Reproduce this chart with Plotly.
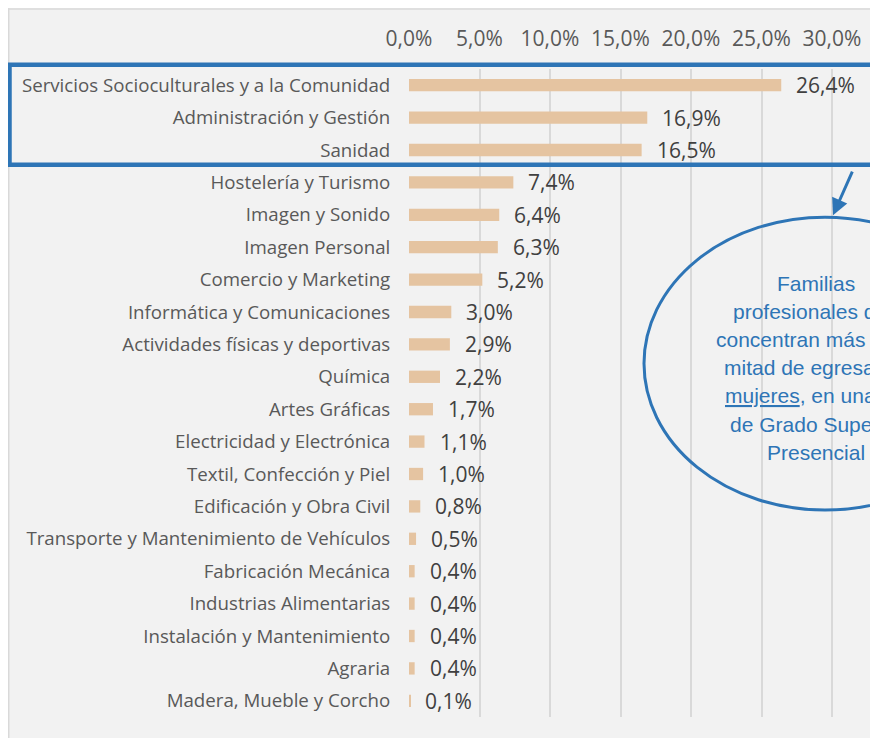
import plotly.graph_objects as go

categories = [
    "Servicios Socioculturales y a la Comunidad",
    "Administración y Gestión",
    "Sanidad",
    "Hostelería y Turismo",
    "Imagen y Sonido",
    "Imagen Personal",
    "Comercio y Marketing",
    "Informática y Comunicaciones",
    "Actividades físicas y deportivas",
    "Química",
    "Artes Gráficas",
    "Electricidad y Electrónica",
    "Textil, Confección y Piel",
    "Edificación y Obra Civil",
    "Transporte y Mantenimiento de Vehículos",
    "Fabricación Mecánica",
    "Industrias Alimentarias",
    "Instalación y Mantenimiento",
    "Agraria",
    "Madera, Mueble y Corcho",
]
values = [26.4, 16.9, 16.5, 7.4, 6.4, 6.3, 5.2, 3.0, 2.9, 2.2, 1.7, 1.1, 1.0, 0.8, 0.5, 0.4, 0.4, 0.4, 0.4, 0.1]
tick_values = [0, 5, 10, 15, 20, 25, 30]
tick_labels = ["0,0%", "5,0%", "10,0%", "15,0%", "20,0%", "25,0%", "30,0%"]

note_lines = ["Familias", "profesionales que", "concentran más de la", "mitad de egresadas",
              "<u>mujeres</u>, en una FP", "de Grado Superior", "Presencial"]

# page offset of the figure (body margin)
OFF = 8
W, H = 870, 730
L, R, T, B = 401, 0, 60.8, 21
PW = W - L - R
PH = H - T - B

def px(x):  # page pixel -> paper
    return (x - OFF - L) / PW

def py(y):
    return (OFF + H - B - y) / PH

BLUE = "#2e75b6"
TXT = "#404040"
GRAY = "#595959"
FONT = "Open Sans"

labels = [f"{v:.1f}".replace(".", ",") + "%" for v in values]

fig = go.Figure()
fig.add_trace(go.Bar(
    x=values, y=categories, orientation="h",
    marker=dict(color="#e5c4a1", line=dict(width=0)),
    width=0.38, hoverinfo="skip",
))

annotations = []
for c, v, t in zip(categories, values, labels):
    annotations.append(dict(x=v, y=c, xref="x", yref="y", text=t, showarrow=False,
                            xanchor="left", yanchor="middle", xshift=13,
                            font=dict(family=FONT, size=21, color=TXT)))

for i, line in enumerate(note_lines):
    annotations.append(dict(x=px(816), y=py(283 + i * 28.2), xref="paper", yref="paper", text=line,
                            showarrow=False, xanchor="center", yanchor="middle", align="center",
                            font=dict(family="Liberation Sans, Arial", size=21, color=BLUE)))
annotations.append(dict(x=px(833), y=py(215), xref="paper", yref="paper", text="",
                        showarrow=True, ax=20, ay=-45, arrowhead=2, arrowsize=1.1,
                        arrowwidth=3, arrowcolor=BLUE))

shapes = [
    dict(type="line", xref="paper", yref="paper", x0=px(OFF + 0.75), x1=px(OFF + 0.75), y0=py(OFF), y1=py(OFF + H),
         line=dict(color="#d9d9d9", width=1.5), layer="below"),
    dict(type="line", xref="paper", yref="paper", x0=px(OFF), x1=px(OFF + W), y0=py(OFF + 0.75), y1=py(OFF + 0.75),
         line=dict(color="#d9d9d9", width=1.5), layer="below"),
    dict(type="rect", xref="paper", yref="paper", x0=px(9.5), x1=px(920), y0=py(64.5), y1=py(164.5),
         line=dict(color=BLUE, width=4.5), layer="above"),
    dict(type="circle", xref="paper", yref="paper", x0=px(644), x1=px(1006), y0=py(217), y1=py(510),
         line=dict(color=BLUE, width=3), layer="above"),
]

fig.update_layout(
    width=W, height=H,
    margin=dict(l=L, r=R, t=T, b=B, pad=0),
    paper_bgcolor="#f2f2f2", plot_bgcolor="rgba(0,0,0,0)",
    showlegend=False,
    annotations=annotations,
    shapes=shapes,
)
fig.update_xaxes(
    side="top", range=[0, PW / 14.1], tickvals=tick_values, ticktext=tick_labels,
    showgrid=True, gridcolor="#d9d9d9", gridwidth=1.5, zeroline=False, showline=False,
    ticks="outside", ticklen=14, tickcolor="rgba(0,0,0,0)",
    tickfont=dict(family=FONT, size=21, color=GRAY),
)
fig.update_yaxes(
    categoryorder="array", categoryarray=categories, autorange="reversed",
    showgrid=False, zeroline=False, showline=False,
    ticks="outside", ticklen=14, tickcolor="rgba(0,0,0,0)",
    tickfont=dict(family=FONT, size=18.7, color=GRAY),
)

fig.write_html("out.html")
